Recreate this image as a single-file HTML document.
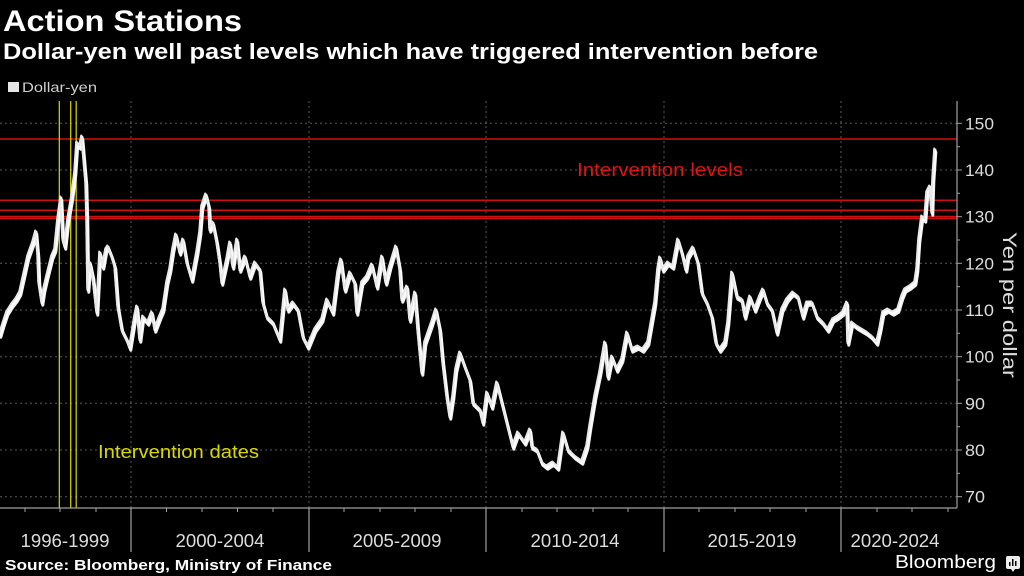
<!DOCTYPE html>
<html><head><meta charset="utf-8"><style>
html,body{margin:0;padding:0;background:#000;}
svg{display:block;}
text{font-family:"Liberation Sans",sans-serif;}
</style></head><body>
<svg width="1024" height="576" viewBox="0 0 1024 576" xmlns="http://www.w3.org/2000/svg">
<defs>
<polyline id="ser" fill="none" stroke-linejoin="round" stroke-linecap="round" points="0,335 3,325 7,313 12,305 16,300 20,293 24,275 28,257 33,243 36,232 38,255 39,283 42,303 44,290 47,277 52,257 55,250 58,220 61,198 63,240 65,247 68,220 72,197 75,173 77,143 80,147 82,137 84,160 86,183 87,220 88,290 90,263 93,277 97,313 100,253 103,267 106,250 108,247 112,257 115,267 118,307 122,330 127,340 130,348 135,317 137,307 140,340 143,317 148,323 152,313 155,330 160,317 163,310 167,283 170,270 173,250 176,235 180,253 183,240 187,263 192,280 197,253 200,233 202,207 206,195 209,207 210,230 213,223 217,243 220,263 222,283 227,260 230,243 233,267 237,240 240,270 245,257 250,277 255,263 260,270 263,303 267,317 273,323 280,340 285,290 288,310 293,303 298,310 303,337 308,347 315,330 322,320 327,300 333,313 338,273 341,260 345,290 350,273 355,283 357,313 362,283 367,277 372,265 377,287 382,257 386,283 390,267 396,247 400,270 402,300 407,287 410,320 415,293 418,330 422,373 425,343 432,323 436,310 440,330 443,363 447,397 450,417 453,397 456,370 460,353 465,367 470,380 473,403 480,410 483,423 487,393 492,407 497,383 502,403 507,423 513,447 518,433 525,443 530,430 532,447 537,450 542,463 547,467 553,463 558,468 563,433 568,450 575,457 582,462 587,447 590,427 595,397 600,373 605,343 608,377 612,357 617,370 622,360 627,333 632,350 638,347 643,350 648,343 652,320 655,303 658,270 660,258 663,270 668,263 673,267 678,240 682,253 686,270 688,257 693,248 698,263 702,293 707,303 712,317 716,343 720,350 725,343 728,323 732,273 737,297 742,300 745,317 750,297 755,310 760,297 763,290 767,303 772,310 777,333 782,310 787,300 793,293 798,297 803,317 807,303 812,303 817,317 823,323 828,330 833,320 838,317 843,313 847,303 848,343 852,323 857,327 862,330 867,333 872,337 877,343 880,330 883,313 888,310 893,313 898,310 902,297 905,290 910,287 915,283 917,270 919,240 922,217 925,220 927,193 930,187 932,213 933,180 935,150"/>
</defs>
<rect width="1024" height="576" fill="#000"/>
<text x="3" y="31" font-size="30" font-weight="bold" fill="#fff" textLength="239" lengthAdjust="spacingAndGlyphs">Action Stations</text>
<text x="3" y="59" font-size="22" font-weight="bold" fill="#fff" textLength="815" lengthAdjust="spacingAndGlyphs">Dollar-yen well past levels which have triggered intervention before</text>
<rect x="8" y="82" width="11" height="10" fill="#e6e6e6"/>
<text x="22" y="92" font-size="14" fill="#cfcfcf" textLength="75" lengthAdjust="spacingAndGlyphs">Dollar-yen</text>

<!-- horizontal grid -->
<g stroke="#5a5a5a" stroke-width="1" stroke-dasharray="2,3">
<line x1="0" y1="123.3" x2="957" y2="123.3"/>
<line x1="0" y1="170" x2="957" y2="170"/>
<line x1="0" y1="216.7" x2="957" y2="216.7"/>
<line x1="0" y1="263.3" x2="957" y2="263.3"/>
<line x1="0" y1="310" x2="957" y2="310"/>
<line x1="0" y1="356.7" x2="957" y2="356.7"/>
<line x1="0" y1="403.3" x2="957" y2="403.3"/>
<line x1="0" y1="450" x2="957" y2="450"/>
<line x1="0" y1="496.7" x2="957" y2="496.7"/>
<line x1="131" y1="101" x2="131" y2="508"/>
<line x1="309" y1="101" x2="309" y2="508"/>
<line x1="486" y1="101" x2="486" y2="508"/>
<line x1="664" y1="101" x2="664" y2="508"/>
<line x1="841" y1="101" x2="841" y2="508"/>
</g>

<!-- red intervention levels -->
<g stroke="#d01010" stroke-width="1.5">
<line x1="0" y1="139" x2="957" y2="139"/>
<line x1="0" y1="200.3" x2="957" y2="200.3"/>
<line x1="0" y1="210.3" x2="957" y2="210.3"/>
<line x1="0" y1="216.5" x2="957" y2="216.5"/>
<line x1="0" y1="218.5" x2="957" y2="218.5"/>
</g>

<!-- yellow intervention dates -->
<g stroke="#d8d800" stroke-width="1.2">
<line x1="59.3" y1="101" x2="59.3" y2="508"/>
<line x1="70.7" y1="101" x2="70.7" y2="508"/>
<line x1="76.2" y1="101" x2="76.2" y2="508"/>
</g>

<!-- series (two offset strokes to mimic daily range band) -->
<use href="#ser" stroke="#f2f2f2" stroke-width="3" transform="translate(0.8,2.2)"/>
<use href="#ser" stroke="#ffffff" stroke-width="3"/>
<use href="#ser" stroke="#e8e8e8" stroke-width="2" transform="translate(-0.8,-1.5)"/>

<text x="577" y="176" font-size="18" fill="#e01414" textLength="166" lengthAdjust="spacingAndGlyphs">Intervention levels</text>
<text x="98" y="458" font-size="18" fill="#d8d800" textLength="161" lengthAdjust="spacingAndGlyphs">Intervention dates</text>

<!-- axes -->
<g stroke="#a0a0a0" stroke-width="1.2">
<line x1="0" y1="508" x2="957" y2="508"/>
<line x1="957" y1="101" x2="957" y2="508"/>
<line x1="131" y1="508" x2="131" y2="552"/>
<line x1="309" y1="508" x2="309" y2="552"/>
<line x1="486" y1="508" x2="486" y2="552"/>
<line x1="664" y1="508" x2="664" y2="552"/>
<line x1="841" y1="508" x2="841" y2="552"/>
</g>
<g stroke="#a0a0a0" stroke-width="1">
<line x1="25" y1="508" x2="25" y2="512"/><line x1="60" y1="508" x2="60" y2="512"/><line x1="96" y1="508" x2="96" y2="512"/>
<line x1="166.5" y1="508" x2="166.5" y2="512"/><line x1="202" y1="508" x2="202" y2="512"/><line x1="237.5" y1="508" x2="237.5" y2="512"/><line x1="273" y1="508" x2="273" y2="512"/>
<line x1="344" y1="508" x2="344" y2="512"/><line x1="380" y1="508" x2="380" y2="512"/><line x1="415" y1="508" x2="415" y2="512"/><line x1="451" y1="508" x2="451" y2="512"/>
<line x1="522" y1="508" x2="522" y2="512"/><line x1="557" y1="508" x2="557" y2="512"/><line x1="593" y1="508" x2="593" y2="512"/><line x1="628" y1="508" x2="628" y2="512"/>
<line x1="699" y1="508" x2="699" y2="512"/><line x1="735" y1="508" x2="735" y2="512"/><line x1="770" y1="508" x2="770" y2="512"/><line x1="806" y1="508" x2="806" y2="512"/>
<line x1="877" y1="508" x2="877" y2="512"/><line x1="912" y1="508" x2="912" y2="512"/><line x1="948" y1="508" x2="948" y2="512"/>
<!-- y ticks -->
<line x1="957" y1="123.3" x2="962" y2="123.3"/><line x1="957" y1="170" x2="962" y2="170"/><line x1="957" y1="216.7" x2="962" y2="216.7"/><line x1="957" y1="263.3" x2="962" y2="263.3"/><line x1="957" y1="310" x2="962" y2="310"/><line x1="957" y1="356.7" x2="962" y2="356.7"/><line x1="957" y1="403.3" x2="962" y2="403.3"/><line x1="957" y1="450" x2="962" y2="450"/><line x1="957" y1="496.7" x2="962" y2="496.7"/>
<line x1="957" y1="146.7" x2="960" y2="146.7"/><line x1="957" y1="193.3" x2="960" y2="193.3"/><line x1="957" y1="240" x2="960" y2="240"/><line x1="957" y1="286.7" x2="960" y2="286.7"/><line x1="957" y1="333.3" x2="960" y2="333.3"/><line x1="957" y1="380" x2="960" y2="380"/><line x1="957" y1="426.7" x2="960" y2="426.7"/><line x1="957" y1="473.3" x2="960" y2="473.3"/>
</g>

<g font-size="17" fill="#dcdcdc">
<text x="965" y="129.3" textLength="29" lengthAdjust="spacingAndGlyphs">150</text>
<text x="965" y="176" textLength="29" lengthAdjust="spacingAndGlyphs">140</text>
<text x="965" y="222.7" textLength="29" lengthAdjust="spacingAndGlyphs">130</text>
<text x="965" y="269.3" textLength="29" lengthAdjust="spacingAndGlyphs">120</text>
<text x="965" y="316" textLength="29" lengthAdjust="spacingAndGlyphs">110</text>
<text x="965" y="362.7" textLength="29" lengthAdjust="spacingAndGlyphs">100</text>
<text x="965" y="409.3" textLength="20" lengthAdjust="spacingAndGlyphs">90</text>
<text x="965" y="456" textLength="20" lengthAdjust="spacingAndGlyphs">80</text>
<text x="965" y="502.7" textLength="20" lengthAdjust="spacingAndGlyphs">70</text>
</g>
<text transform="translate(1003,305) rotate(90)" x="0" y="0" text-anchor="middle" font-size="19" fill="#dcdcdc" textLength="146" lengthAdjust="spacingAndGlyphs">Yen per dollar</text>

<g font-size="18" fill="#dcdcdc" text-anchor="middle">
<text x="65" y="547" textLength="89" lengthAdjust="spacingAndGlyphs">1996-1999</text>
<text x="220" y="547" textLength="89" lengthAdjust="spacingAndGlyphs">2000-2004</text>
<text x="397" y="547" textLength="89" lengthAdjust="spacingAndGlyphs">2005-2009</text>
<text x="575" y="547" textLength="89" lengthAdjust="spacingAndGlyphs">2010-2014</text>
<text x="752" y="547" textLength="89" lengthAdjust="spacingAndGlyphs">2015-2019</text>
<text x="895" y="547" textLength="89" lengthAdjust="spacingAndGlyphs">2020-2024</text>
</g>

<text x="5" y="570" font-size="15" font-weight="bold" fill="#fff" textLength="327" lengthAdjust="spacingAndGlyphs">Source: Bloomberg, Ministry of Finance</text>
<text x="895" y="568" font-size="18" fill="#fff" textLength="101" lengthAdjust="spacingAndGlyphs">Bloomberg</text>
<rect x="1006" y="556" width="14" height="13" rx="2" fill="#eee"/>
<polygon points="1011,569 1015,569 1013,572" fill="#eee"/>
<g fill="#000">
<rect x="1009" y="562" width="1.5" height="4"/>
<rect x="1012" y="559" width="1.5" height="7"/>
<rect x="1015" y="561" width="1.5" height="5"/>
</g>
</svg>
</body></html>
